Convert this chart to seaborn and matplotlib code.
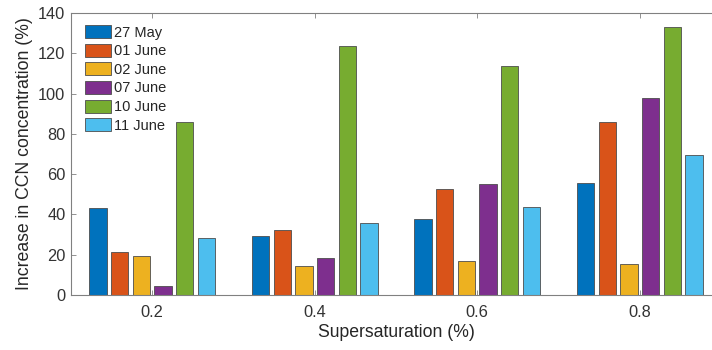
import matplotlib
matplotlib.use("Agg")
import matplotlib.pyplot as plt
import seaborn as sns
import pandas as pd

supersaturation = ["0.2", "0.4", "0.6", "0.8"]
dates = ["27 May", "01 June", "02 June", "07 June", "10 June", "11 June"]
may27 = [43.0, 29.3, 37.9, 55.4]
june01 = [21.5, 32.4, 52.6, 86.0]
june02 = [19.4, 14.4, 16.7, 15.2]
june07 = [4.5, 18.4, 55.1, 98.0]
june10 = [85.7, 123.5, 113.7, 133.2]
june11 = [28.3, 35.7, 43.8, 69.7]
series = [may27, june01, june02, june07, june10, june11]
colors = ["#0072BD", "#D95319", "#EDB120", "#7E2F8E", "#77AC30", "#4DBEEE"]

rows = []
for d, vals in zip(dates, series):
    for s, v in zip(supersaturation, vals):
        rows.append({"ss": s, "date": d, "val": v})
df = pd.DataFrame(rows)

sns.set_style("white")
plt.rcParams["font.family"] = ["Liberation Sans", "DejaVu Sans"]

fig = plt.figure(figsize=(7.12, 3.5), dpi=100)
ax = fig.add_axes([71 / 712, 1 - 295 / 350, 650 / 712, 282 / 350])

sns.barplot(data=df, x="ss", y="val", hue="date", hue_order=dates,
            order=supersaturation, palette=colors, gap=0.2, width=0.8,
            edgecolor="#4d4d4d", linewidth=0.6, saturation=1, ax=ax)

ax.set_xlim(-0.5, 3.5)
ax.set_ylim(0, 140)
ax.set_yticks(range(0, 141, 20))
ax.set_xlabel("Supersaturation (%)", fontsize=12.7, color="#262626", labelpad=3)
ax.set_ylabel("Increase in CCN concentration (%)", fontsize=12.7, color="#262626", labelpad=4)
ax.tick_params(direction="in", length=3.5, width=0.6, colors="#808080",
               labelcolor="#333333", labelsize=11.8, top=True, right=False,
               bottom=True, left=True)
ax.tick_params(axis="x", pad=7)
ax.tick_params(axis="y", pad=4)
for sp in ax.spines.values():
    sp.set_color("#808080")
    sp.set_linewidth(0.8)
ax.spines["right"].set_visible(False)

leg = ax.legend(loc="upper left", bbox_to_anchor=(0.0215, 0.957),
                frameon=False, fontsize=10.5, borderaxespad=0, borderpad=0,
                handlelength=1.8, handleheight=1.0, labelspacing=0.28,
                handletextpad=0.2, title=None)
for t in leg.get_texts():
    t.set_color("#262626")

fig.savefig("out.png", dpi=100)
